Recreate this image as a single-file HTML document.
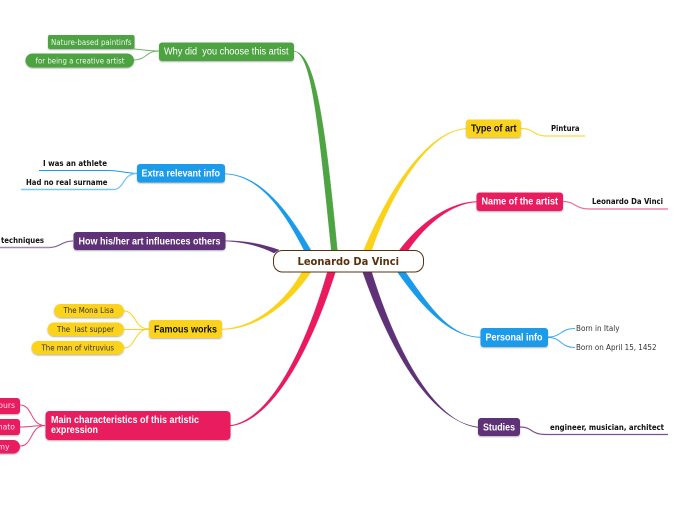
<!DOCTYPE html>
<html><head><meta charset="utf-8">
<style>
html,body{margin:0;padding:0;background:#fff}
svg{display:block}
text{white-space:pre}
.b{font:bold 10px "Liberation Sans",sans-serif;fill:#fff}
.d{font:7.7px "DejaVu Sans",sans-serif}
.h{font:bold 7.7px "DejaVu Sans",sans-serif;fill:#111}
.t path{stroke-width:.4;stroke-linejoin:round}
</style></head><body>
<svg width="696" height="520" viewBox="0 0 696 520" xmlns="http://www.w3.org/2000/svg">
<defs><filter id="s" x="-10%" y="-20%" width="120%" height="150%"><feDropShadow dx="0" dy="1" stdDeviation="0.8" flood-color="#000" flood-opacity=".3"/></filter></defs>
<rect width="696" height="520" fill="#fff"/>
<!-- main tapered branches -->
<g class="t">
<path fill="#4ea342" stroke="#4ea342" d="M294 51.300C311 54 317 110 331.500 252L337.500 252C324 110 314 53 294 51.300Z"/>
<path fill="#1a9bea" stroke="#1a9bea" d="M225 174C262 175.500 286 215 305 252L312 252C290 214 262 174.500 225 173.700Z"/>
<path fill="#5f3278" stroke="#5f3278" d="M225 241C245 242 260 246 274 253L279 250C262 244 245 240.700 225 240.700Z"/>
<path fill="#fbd21a" stroke="#fbd21a" d="M222 329C255 328 285 302 302 272L311 272C290 304 256 329.500 222 329.500Z"/>
<path fill="#e91a5e" stroke="#e91a5e" d="M230 425.500C270 420 305 350 328 270L336 270C311 350 272 422 230 426Z"/>
<path fill="#fbd21a" stroke="#fbd21a" d="M466 128.500C430 130 390 185 363 252L371 252C393 188 431 130 466 129Z"/>
<path fill="#e91a5e" stroke="#e91a5e" d="M477 201.500C450 202 420 222 398 252L407 252C424 226 451 203 477 202Z"/>
<path fill="#1a9bea" stroke="#1a9bea" d="M481 337.500C449 337 422 307 396 270L404 270C428 304 449 337.500 481 337Z"/>
<path fill="#5f3278" stroke="#5f3278" d="M478 427C430 421 390 350 362 270L371 270C394 345 432 422 478 427.500Z"/>
</g>
<!-- sub connectors -->
<g fill="none" stroke-width="1">
<path stroke="#6db564" d="M134 49C145 50 150 51 159 51M134 60C146 60 146 51 159 51"/>
<path stroke="#1a9bea" d="M39 170.500H108C120 170.500 125 173 137 173.500"/>
<path stroke="#7cc8f5" stroke-width="1.400" d="M21 189.500H113C125 189.500 122 173.500 137 173.500"/>
<path stroke="#7a4f93" d="M73 241C62 241 60 247.500 49 247.500"/>
<path stroke="#a686b8" stroke-width="1.400" d="M0 247.500H50"/>
<path stroke="#fbd21a" d="M124 311C136 311 134 329 149 329M124 329.500H149M124 348C136 348 134 329 149 329"/>
<path stroke="#ea3f77" d="M20 405C33 405 30 425.500 45 425.500M20 427C30 427 35 425.500 45 425.500M20 446C33 446 30 425.500 45 425.500"/>
<path stroke="#fbd940" stroke-width="1.200" d="M521 128.500C535 128.500 532 136 548 136H585"/>
<path stroke="#ef6c95" stroke-width="1.200" d="M563 201.500C576 201.500 574 209 590 209H668"/>
<path stroke="#3fabee" d="M548 337C562 337 560 328.500 575 328.500M548 337.500C562 337.500 560 347.500 575 347.500"/>
<path stroke="#7a4f93" stroke-width="1.200" d="M520 427C533 427 530 434.500 546 434.500H668"/>
</g>
<!-- center -->
<rect x="273.500" y="250.500" width="150" height="21.500" rx="9" fill="#fff" stroke="#57300c" stroke-width="1"/>
<text x="297.500" y="265" textLength="101.500" lengthAdjust="spacingAndGlyphs" style="font:bold 10.500px 'DejaVu Sans',sans-serif;fill:#57300c">Leonardo Da Vinci</text>
<!-- main nodes -->
<g filter="url(#s)">
<rect x="159" y="42.500" width="135" height="18.500" rx="3" fill="#4ea342"/>
<rect x="137" y="164" width="88" height="18.500" rx="3" fill="#1a9bea"/>
<rect x="73.500" y="232" width="152" height="18" rx="3" fill="#5f3278"/>
<rect x="149" y="320" width="73" height="18" rx="3" fill="#fbd21a"/>
<rect x="45.500" y="411" width="185" height="29" rx="4" fill="#e91a5e"/>
<rect x="466" y="119.500" width="55" height="18" rx="3" fill="#fbd21a"/>
<rect x="476.500" y="192.500" width="86.500" height="18.500" rx="3" fill="#e91a5e"/>
<rect x="480.500" y="328" width="67.500" height="19" rx="3" fill="#1a9bea"/>
<rect x="478" y="418" width="42" height="18" rx="3" fill="#5f3278"/>
<rect x="48" y="35" width="86.500" height="14" rx="2" fill="#4ea342"/>
<rect x="25.500" y="53.500" width="108.500" height="14" rx="7" fill="#4ea342"/>
<rect x="54" y="304" width="70" height="13.500" rx="6.700" fill="#fbd21a"/>
<rect x="47.500" y="322.500" width="76.500" height="13.500" rx="6.700" fill="#fbd21a"/>
<rect x="31.500" y="341" width="92.500" height="13.500" rx="6.700" fill="#fbd21a"/>
<rect x="-10" y="398" width="30" height="16" rx="3" fill="#e91a5e"/>
<rect x="-10" y="419" width="30" height="16" rx="3" fill="#e91a5e"/>
<rect x="-10" y="440" width="30" height="13.500" rx="6.700" fill="#e91a5e"/>
</g>
<!-- labels -->
<text class="b" x="164" y="54.500" textLength="124.500" lengthAdjust="spacingAndGlyphs" style="font-weight:normal">Why did  you choose this artist</text>
<text class="b" x="141.500" y="176.500" textLength="78.500" lengthAdjust="spacingAndGlyphs">Extra relevant info</text>
<text class="b" x="78.500" y="244.500" textLength="142" lengthAdjust="spacingAndGlyphs">How his/her art influences others</text>
<text class="b" x="154" y="332.500" textLength="63" lengthAdjust="spacingAndGlyphs" style="fill:#111">Famous works</text>
<text class="b" x="51" y="423" textLength="148" lengthAdjust="spacingAndGlyphs">Main characteristics of this artistic</text>
<text class="b" x="51" y="433" textLength="47" lengthAdjust="spacingAndGlyphs">expression</text>
<text class="b" x="471" y="131.500" textLength="45.500" lengthAdjust="spacingAndGlyphs" style="fill:#111">Type of art</text>
<text class="b" x="481.500" y="204.500" textLength="76.500" lengthAdjust="spacingAndGlyphs">Name of the artist</text>
<text class="b" x="485.500" y="340.500" textLength="57" lengthAdjust="spacingAndGlyphs">Personal info</text>
<text class="b" x="483" y="430.500" textLength="32" lengthAdjust="spacingAndGlyphs">Studies</text>
<text class="d" x="51" y="45" textLength="80.500" lengthAdjust="spacingAndGlyphs" fill="#eaf5e8">Nature-based paintinfs</text>
<text class="d" x="35.500" y="63.500" textLength="89" lengthAdjust="spacingAndGlyphs" fill="#eaf5e8">for being a creative artist</text>
<text class="d" x="63.500" y="313" textLength="50.500" lengthAdjust="spacingAndGlyphs" fill="#333">The Mona Lisa</text>
<text class="d" x="57" y="332" textLength="57" lengthAdjust="spacingAndGlyphs" fill="#333">The  last supper</text>
<text class="d" x="41.500" y="350.500" textLength="72.500" lengthAdjust="spacingAndGlyphs" fill="#333">The man of vitruvius</text>
<text class="d" x="15" y="408" text-anchor="end" fill="#fde">ours</text>
<text class="d" x="15" y="429.500" text-anchor="end" fill="#fde">mato</text>
<text class="d" x="9.500" y="449.500" text-anchor="end" fill="#fde">my</text>
<text class="h" x="43" y="166" textLength="64" lengthAdjust="spacingAndGlyphs">I was an athlete</text>
<text class="h" x="26" y="185" textLength="81.500" lengthAdjust="spacingAndGlyphs">Had no real surname</text>
<text class="h" x="1" y="243" textLength="43" lengthAdjust="spacingAndGlyphs">techniques</text>
<text class="h" x="551" y="131" textLength="28.500" lengthAdjust="spacingAndGlyphs">Pintura</text>
<text class="h" x="592" y="204" textLength="71" lengthAdjust="spacingAndGlyphs">Leonardo Da Vinci</text>
<text class="h" x="550" y="430" textLength="114" lengthAdjust="spacingAndGlyphs">engineer, musician, architect</text>
<text class="d" x="576" y="331" textLength="43.500" lengthAdjust="spacingAndGlyphs" fill="#333">Born in Italy</text>
<text class="d" x="576" y="350" textLength="80.500" lengthAdjust="spacingAndGlyphs" fill="#333">Born on April 15, 1452</text>
</svg>
</body></html>
